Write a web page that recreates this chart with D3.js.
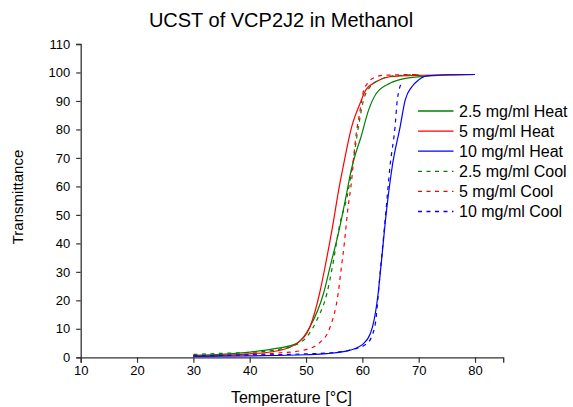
<!DOCTYPE html>
<html>
<head>
<meta charset="utf-8">
<script src="https://cdn.jsdelivr.net/npm/d3@7"></script>
<style>
  html, body { margin: 0; padding: 0; background: #fff; }
  svg { display: block; font-family: Arial, "Liberation Sans", sans-serif; }
</style>
</head>
<body>
<svg id="chart" width="573" height="407"></svg>
<script>
// ---- data ----
const chartTitle = "UCST of VCP2J2 in Methanol";
const xLabel = "Temperature [°C]";
const yLabel = "Transmittance";
const xTicks = [10, 20, 30, 40, 50, 60, 70, 80];
const yTicks = [0, 10, 20, 30, 40, 50, 60, 70, 80, 90, 100, 110];
const seriesNames = ["2.5 mg/ml Heat", "5 mg/ml Heat", "10 mg/ml Heat",
                     "2.5 mg/ml Cool", "5 mg/ml Cool", "10 mg/ml Cool"];

const heat25T = [30, 35, 40, 45, 48.3, 50.7, 53.1, 54.3, 56.0, 57.2, 58.0, 58.8, 59.7, 61.1, 62.5, 64.9, 67.9, 72, 80];
const heat25V = [0.7, 1.0, 1.8, 3.2, 4.8, 10.7, 22.4, 32, 45.8, 57.5, 65.5, 71.5, 77, 86.8, 92.7, 96.2, 98.0, 98.8, 99.3];

const heat5T = [30, 35, 40, 45, 48.3, 50.7, 52.4, 53.4, 54.7, 55.9, 56.6, 58.1, 59.6, 60.6, 62.5, 64.9, 70, 80];
const heat5V = [0.4, 0.7, 1.2, 2.3, 4.8, 10.7, 22.4, 32, 45.8, 59.9, 67, 80.9, 89.2, 93.8, 96.8, 98.5, 99.0, 99.3];

const heat10T = [30, 40, 50, 53.7, 57.8, 60.2, 61.8, 62.8, 63.3, 64.3, 65.3, 66.7, 67.6, 68.8, 70.0, 71.4, 75, 80];
const heat10V = [0.3, 0.5, 0.9, 1.3, 2.5, 4.8, 10.7, 22.4, 32, 51.7, 67, 80.9, 90.3, 95, 97.4, 98.8, 99.2, 99.3];

const cool25T = [30, 35, 40, 45, 48, 50.1, 51.9, 53.7, 54.7, 55.9, 57.4, 58.3, 59.3, 60.2, 61.4, 63.1, 65.4, 70];
const cool25V = [1.0, 1.4, 1.7, 2.7, 4.2, 7.1, 13, 22.4, 32, 45.8, 57.5, 68, 80.9, 90.3, 95, 97.4, 98.8, 99.2];

const cool5T = [30, 35, 40, 45, 49.5, 52.2, 54.3, 55.7, 56.3, 56.8, 57.4, 58.1, 58.7, 59.6, 60.1, 60.9, 62.5, 63.7, 70];
const cool5V = [0.5, 0.7, 1.0, 1.5, 2.5, 4.8, 10.7, 22.4, 32, 40, 51.7, 62.2, 75.1, 86.8, 92.7, 96.2, 98.5, 99.0, 99.3];

const cool10T = [30, 40, 50, 55, 58, 60.8, 62.2, 63.2, 64.2, 64.9, 65.8, 66.2, 67.0];
const cool10V = [0.5, 0.8, 1.2, 1.7, 2.6, 4.8, 10.7, 30.6, 51.7, 67, 80.9, 90.3, 96.5];

const seriesT = [heat25T, heat5T, heat10T, cool25T, cool5T, cool10T];
const seriesV = [heat25V, heat5V, heat10V, cool25V, cool5V, cool10V];
const colors = ["#008000", "#ff0000", "#0000ff", "#008000", "#ff0000", "#0000ff"];
const dashed = [false, false, false, true, true, true];

// ---- layout ----
const svg = d3.select("#chart");
const plotLeft = 80.7, plotRight = 503.2, plotTop = 44, plotBottom = 357.3;

const x = d3.scaleLinear().domain([10, 85]).range([plotLeft, plotRight]);
const y = d3.scaleLinear().domain([0, 110]).range([plotBottom, plotTop]);

const axisColor = "#333";

// x axis
const xAxis = svg.append("g").attr("transform", `translate(0,${plotBottom})`);
xAxis.call(d3.axisBottom(x).tickValues(d3.range(15, 86, 10)).tickSize(3).tickFormat(""));
xAxis.call(d3.axisBottom(x).tickValues(xTicks).tickSize(5.5).tickPadding(3).tickFormat(d3.format("d")));
xAxis.selectAll(".domain").attr("stroke", axisColor).attr("stroke-width", 1.3);
xAxis.selectAll("line").attr("stroke", axisColor).attr("stroke-width", 1.2);
xAxis.selectAll("text").attr("font-size", 13).attr("fill", "#000")
  .attr("font-family", "Arial, 'Liberation Sans', sans-serif");

// y axis
const yAxis = svg.append("g").attr("transform", `translate(${plotLeft},0)`);
yAxis.call(d3.axisLeft(y).tickValues(d3.range(5, 110, 10)).tickSize(2.5).tickFormat(""));
yAxis.call(d3.axisLeft(y).tickValues(yTicks).tickSize(4.5).tickPadding(6).tickFormat(d3.format("d")));
yAxis.selectAll(".domain").attr("stroke", axisColor).attr("stroke-width", 1.3);
yAxis.selectAll("line").attr("stroke", axisColor).attr("stroke-width", 1.2);
yAxis.selectAll("text").attr("font-size", 13).attr("fill", "#000")
  .attr("font-family", "Arial, 'Liberation Sans', sans-serif");

// lines
const line = d3.line()
  .x(d => x(d[0]))
  .y(d => y(d[1]))
  .curve(d3.curveMonotoneX);

seriesT.forEach((ts, i) => {
  const pts = ts.map((t, j) => [t, seriesV[i][j]]);
  svg.append("path")
    .datum(pts)
    .attr("d", line)
    .attr("fill", "none")
    .attr("stroke", colors[i])
    .attr("stroke-width", 1.2)
    .attr("stroke-dasharray", dashed[i] ? "4,4.5" : null);
});

// title and labels
svg.append("text").attr("x", 281).attr("y", 27).attr("text-anchor", "middle")
  .attr("font-size", 20).attr("fill", "#000").text(chartTitle);
svg.append("text").attr("x", 291.5).attr("y", 403).attr("text-anchor", "middle")
  .attr("font-size", 16).attr("fill", "#000").text(xLabel);
svg.append("text").attr("transform", "translate(23,197) rotate(-90)").attr("text-anchor", "middle")
  .attr("font-size", 15).attr("fill", "#000").text(yLabel);

// legend
const leg = svg.append("g");
seriesNames.forEach((name, i) => {
  const yy = 111 + 20.1 * i;
  leg.append("line").attr("x1", 418).attr("x2", 453.5).attr("y1", yy).attr("y2", yy)
    .attr("stroke", colors[i]).attr("stroke-width", 1.3)
    .attr("stroke-dasharray", dashed[i] ? "4,4.5" : null);
  leg.append("text").attr("x", 459).attr("y", yy + 5.5).attr("font-size", 16)
    .attr("fill", "#000").text(name);
});
</script>
</body>
</html>
